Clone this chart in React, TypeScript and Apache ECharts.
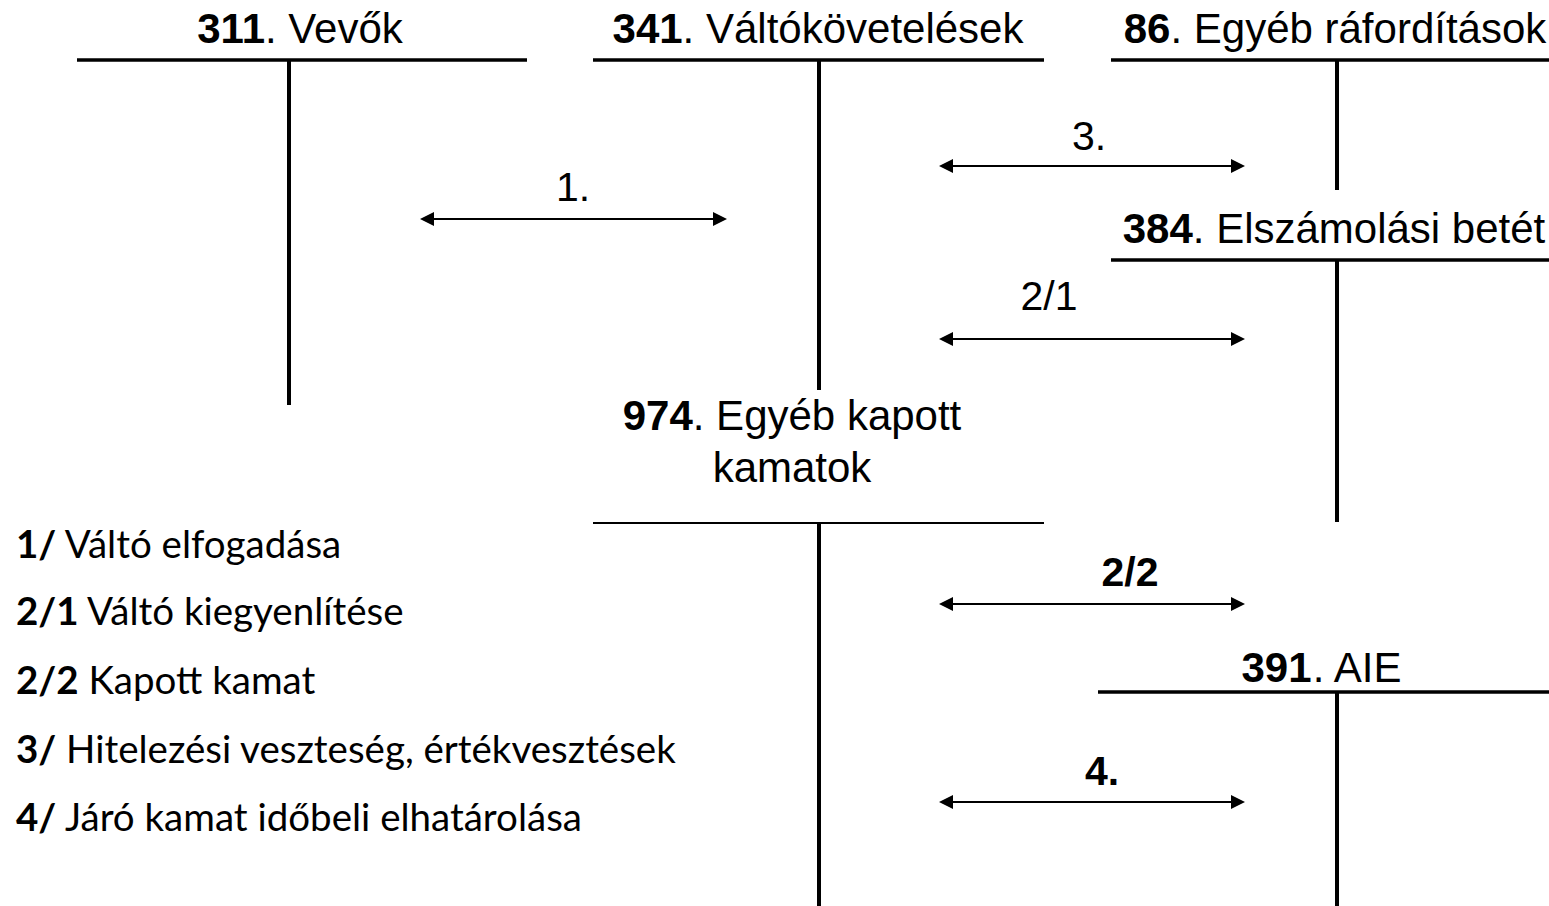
import React, { useEffect, useRef } from 'react';
import * as echarts from 'echarts';

// ---- content ----
const accountCodes = ['311', '341', '86', '384', '974', '391'];
const accountNames = [
  ['Vevők'],
  ['Váltókövetelések'],
  ['Egyéb ráfordítások'],
  ['Elszámolási betét'],
  ['Egyéb kapott', 'kamatok'],
  ['AIE'],
];
const arrowLabels = ['1.', '3.', '2/1', '2/2', '4.'];
const arrowBold = [false, false, false, true, true];
const legendCodes = ['1/', '2/1', '2/2', '3/', '4/'];
const legendTexts = [
  'Váltó elfogadása',
  'Váltó kiegyenlítése',
  'Kapott kamat',
  'Hitelezési veszteség, értékvesztések',
  'Járó kamat időbeli elhatárolása',
];

// ---- layout (in the hidden axes' coordinate space) ----
const W = 1549;
const H = 906;
const accLeft = [77, 593, 1111, 1111, 593, 1098];
const accRight = [527, 1044, 1549, 1549, 1044, 1549];
const accTop = [60, 60, 60, 260, 523, 692];
const accStem = [289, 819, 1337, 1337, 819, 1337];
const accBottom = [405, 390, 190, 522, 906, 906];
const accRuleWidth = [3.5, 3.5, 3.5, 3.5, 2, 3.5];
const accTitleX = [300, 818, 1335, 1334, 792, 1322];
const accTitleY = [28, 28, 28, 228, 415, 667];
const titleLineGap = 52;

const arrowX1 = [420, 939, 939, 939, 939];
const arrowX2 = [727, 1245, 1245, 1245, 1245];
const arrowY = [219, 166, 339, 604, 802];
const arrowLabelX = [573, 1089, 1049, 1130, 1102];
const arrowLabelY = [187, 136, 296, 572, 771];

const legendX = 16;
const legendY = [543, 610, 679, 748, 816];

const ARIAL = 'Liberation Sans, Arial, sans-serif';
const CALIBRI = 'Lato, sans-serif';
const TITLE_SIZE = 42;
const LABEL_SIZE = 41;
const LEGEND_SIZE = 38.5;

export default function App() {
  const ref = useRef<HTMLDivElement>(null);
  useEffect(() => {
    if (!ref.current) return;
    const chart = echarts.init(ref.current, undefined, { renderer: 'svg' });

    const textItems: any[] = [];
    accountCodes.forEach((code, i) => {
      accountNames[i].forEach((line, j) => {
        textItems.push({
          x: accTitleX[i],
          y: accTitleY[i] + j * titleLineGap,
          text: j === 0 ? `{b|${code}}. ${line}` : line,
          align: 'center',
          font: ARIAL,
          size: TITLE_SIZE,
        });
      });
    });
    arrowLabels.forEach((lab, i) => {
      textItems.push({
        x: arrowLabelX[i],
        y: arrowLabelY[i],
        text: arrowBold[i] ? `{b|${lab}}` : lab,
        align: 'center',
        font: ARIAL,
        size: LABEL_SIZE,
      });
    });
    legendCodes.forEach((code, i) => {
      textItems.push({
        x: legendX,
        y: legendY[i],
        text: `{b|${code}} ${legendTexts[i]}`,
        align: 'left',
        font: CALIBRI,
        size: LEGEND_SIZE,
      });
    });

    chart.setOption({
      animation: false,
      backgroundColor: '#ffffff',
      grid: { left: 0, right: 0, top: 0, bottom: 0 },
      xAxis: { type: 'value', min: 0, max: W, show: false },
      yAxis: { type: 'value', min: 0, max: H, inverse: true, show: false },
      series: [
        {
          type: 'custom',
          name: 'accounts',
          clip: false,
          data: accountCodes.map((_, i) => [accStem[i], accTop[i]]),
          renderItem: (params: any, api: any) => {
            const i = params.dataIndex;
            const a = api.coord([accLeft[i], accTop[i]]);
            const b = api.coord([accRight[i], accTop[i]]);
            const c = api.coord([accStem[i], accTop[i]]);
            const d = api.coord([accStem[i], accBottom[i]]);
            return {
              type: 'group',
              children: [
                {
                  type: 'line',
                  shape: { x1: a[0], y1: a[1], x2: b[0], y2: b[1] },
                  style: { stroke: '#000', lineWidth: accRuleWidth[i] },
                },
                {
                  type: 'line',
                  shape: { x1: c[0], y1: c[1], x2: d[0], y2: d[1] },
                  style: { stroke: '#000', lineWidth: 4 },
                },
              ],
            };
          },
        },
        {
          type: 'custom',
          name: 'arrows',
          clip: false,
          data: arrowLabels.map((_, i) => [arrowX1[i], arrowY[i]]),
          renderItem: (params: any, api: any) => {
            const i = params.dataIndex;
            const p1 = api.coord([arrowX1[i], arrowY[i]]);
            const p2 = api.coord([arrowX2[i], arrowY[i]]);
            const hl = 14;
            const hw = 7;
            return {
              type: 'group',
              children: [
                {
                  type: 'line',
                  shape: { x1: p1[0] + hl - 2, y1: p1[1], x2: p2[0] - hl + 2, y2: p2[1] },
                  style: { stroke: '#000', lineWidth: 2 },
                },
                {
                  type: 'polygon',
                  shape: { points: [[p1[0], p1[1]], [p1[0] + hl, p1[1] - hw], [p1[0] + hl, p1[1] + hw]] },
                  style: { fill: '#000' },
                },
                {
                  type: 'polygon',
                  shape: { points: [[p2[0], p2[1]], [p2[0] - hl, p2[1] - hw], [p2[0] - hl, p2[1] + hw]] },
                  style: { fill: '#000' },
                },
              ],
            };
          },
        },
        {
          type: 'custom',
          name: 'texts',
          clip: false,
          data: textItems.map((t) => [t.x, t.y]),
          renderItem: (params: any, api: any) => {
            const t = textItems[params.dataIndex];
            const p = api.coord([t.x, t.y]);
            return {
              type: 'text',
              x: p[0],
              y: p[1],
              style: {
                text: t.text,
                fill: '#000',
                fontFamily: t.font,
                fontSize: t.size,
                align: t.align,
                verticalAlign: 'middle',
                rich: {
                  b: { fontWeight: 'bold', fontFamily: t.font, fontSize: t.size, fill: '#000' },
                },
              },
            };
          },
        },
      ],
    });
    return () => chart.dispose();
  }, []);
  return (
    <div
      ref={ref}
      style={{ position: 'absolute', left: 0, top: 0, width: W, height: H, background: '#fff' }}
    />
  );
}
